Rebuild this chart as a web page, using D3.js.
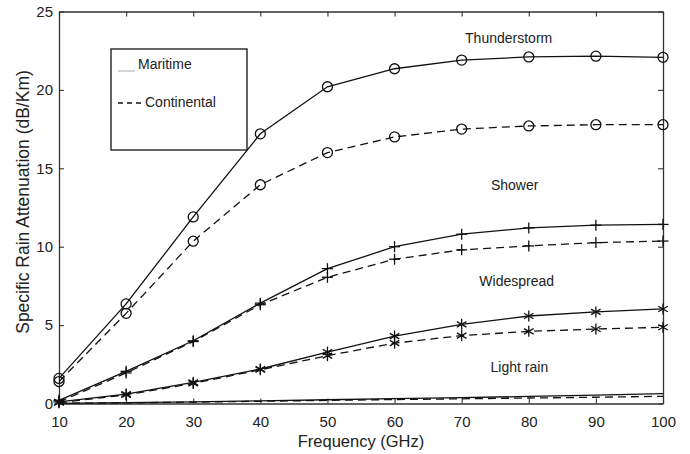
<!DOCTYPE html>
<html>
<head>
<meta charset="utf-8">
<script src="https://cdn.jsdelivr.net/npm/d3@7"></script>
<style>
  body { margin: 0; background: #fff; }
  text { font-family: "Liberation Sans", Arial, sans-serif; fill: #222; }
</style>
</head>
<body>
<div id="chart"></div>
<script>
const freq = [10, 20, 30, 40, 50, 60, 70, 80, 90, 100];

const thunderMaritime    = [1.6, 6.35, 11.9, 17.2, 20.2, 21.35, 21.9, 22.1, 22.15, 22.08];
const thunderContinental = [1.4, 5.75, 10.35, 13.95, 16.0, 17.0, 17.5, 17.7, 17.78, 17.78];
const showerMaritime     = [0.2, 2.05, 4.0, 6.4, 8.6, 10.0, 10.8, 11.2, 11.37, 11.42];
const showerContinental  = [0.1, 1.95, 3.95, 6.3, 8.05, 9.2, 9.8, 10.05, 10.26, 10.36];
const wideMaritime       = [0.1, 0.6, 1.35, 2.2, 3.28, 4.3, 5.05, 5.58, 5.84, 6.03];
const wideContinental    = [0.05, 0.55, 1.28, 2.15, 3.05, 3.85, 4.33, 4.6, 4.75, 4.86];
const lightMaritime      = [0.01, 0.05, 0.1, 0.17, 0.24, 0.31, 0.38, 0.45, 0.53, 0.63];
const lightContinental   = [0.01, 0.04, 0.09, 0.14, 0.2, 0.25, 0.3, 0.35, 0.4, 0.46];

const xTicks = [10, 20, 30, 40, 50, 60, 70, 80, 90, 100];
const yTicks = [0, 5, 10, 15, 20, 25];

const series = [
  {values: thunderMaritime, dashed: false, marker: "circle"},
  {values: thunderContinental, dashed: true, marker: "circle"},
  {values: showerMaritime, dashed: false, marker: "plus"},
  {values: showerContinental, dashed: true, marker: "plus"},
  {values: wideMaritime, dashed: false, marker: "star"},
  {values: wideContinental, dashed: true, marker: "star"},
  {values: lightMaritime, dashed: false, marker: null},
  {values: lightContinental, dashed: true, marker: null}
];

const groupLabels = [
  {text: "Thunderstorm", f: 77, v: 23.0},
  {text: "Shower", f: 77.9, v: 13.6},
  {text: "Widespread", f: 78.2, v: 7.5},
  {text: "Light rain", f: 78.6, v: 2.0}
];

const width = 690, height = 454;
const margin = {top: 11.5, right: 27, bottom: 50.5, left: 59};
const w = width - margin.left - margin.right;
const h = height - margin.top - margin.bottom;

const svg = d3.select("#chart").append("svg")
  .attr("width", width).attr("height", height);
const g = svg.append("g").attr("transform", `translate(${margin.left},${margin.top})`);

const x = d3.scaleLinear().domain([10, 100]).range([0, w]);
const y = d3.scaleLinear().domain([0, 25]).range([h, 0]);

// box axes with inward ticks like matlab
const xAxis = d3.axisBottom(x).tickValues(xTicks).tickSize(-5).tickSizeOuter(0).tickPadding(13);
const yAxis = d3.axisLeft(y).tickValues(yTicks).tickSize(-5).tickSizeOuter(0).tickPadding(6);

g.append("g").attr("transform", `translate(0,${h})`).call(xAxis);
g.append("g").call(yAxis);
g.append("g").call(d3.axisTop(x).tickValues(xTicks).tickSize(-5).tickSizeOuter(0).tickFormat(""));
g.append("g").attr("transform", `translate(${w},0)`)
  .call(d3.axisRight(y).tickValues(yTicks).tickSize(-5).tickSizeOuter(0).tickFormat(""));

g.selectAll(".domain").attr("stroke", "#333").attr("stroke-width", 1.3);
g.selectAll(".tick line").attr("stroke", "#333").attr("stroke-width", 1.1);
g.selectAll(".tick text").style("font-size", "15px").attr("fill", "#333")
  .style("font-family", "'Liberation Sans', Arial, sans-serif");

const line = d3.line().x((d, i) => x(freq[i])).y(d => y(d));

series.forEach(s => {
  g.append("path")
    .datum(s.values)
    .attr("d", line)
    .attr("fill", "none")
    .attr("stroke", "#111")
    .attr("stroke-width", 1.3)
    .attr("stroke-dasharray", s.dashed ? "8,5" : null);

  if (!s.marker) return;
  const m = g.append("g").selectAll("g").data(s.values).enter().append("g")
    .attr("transform", (d, i) => `translate(${x(freq[i])},${y(d)})`);
  if (s.marker === "circle") {
    m.append("circle").attr("r", 5).attr("fill", "none").attr("stroke", "#111").attr("stroke-width", 1.3);
  } else {
    const r = 5.5;
    const angles = s.marker === "plus" ? [0, 90] : [0, 60, 120];
    angles.forEach(a => {
      const rad = a * Math.PI / 180;
      const a0 = s.marker === "plus" ? rad : rad + Math.PI / 2;
      m.append("line")
        .attr("x1", -r * Math.cos(a0)).attr("y1", -r * Math.sin(a0))
        .attr("x2", r * Math.cos(a0)).attr("y2", r * Math.sin(a0))
        .attr("stroke", "#111").attr("stroke-width", 1.3);
    });
  }
});

g.selectAll(".glabel").data(groupLabels).enter().append("text")
  .attr("x", d => x(d.f)).attr("y", d => y(d.v))
  .attr("text-anchor", "middle")
  .style("font-size", "14px")
  .text(d => d.text);

// legend
const lg = svg.append("g");
lg.append("rect").attr("x", 111).attr("y", 49).attr("width", 136).attr("height", 101)
  .attr("fill", "#fff").attr("stroke", "#111").attr("stroke-width", 1.3);
lg.append("line").attr("x1", 118).attr("x2", 135).attr("y1", 71).attr("y2", 71)
  .attr("stroke", "#aaa").attr("stroke-width", 1);
lg.append("text").attr("x", 138).attr("y", 69).style("font-size", "14px").text("Maritime");
lg.append("line").attr("x1", 118).attr("x2", 142).attr("y1", 103).attr("y2", 103)
  .attr("stroke", "#111").attr("stroke-width", 1.3).attr("stroke-dasharray", "5,4");
lg.append("text").attr("x", 145).attr("y", 107).style("font-size", "14px").text("Continental");

// axis titles
svg.append("text").attr("x", 361).attr("y", 447)
  .attr("text-anchor", "middle").style("font-size", "16.5px").attr("fill", "#333").text("Frequency (GHz)");
svg.append("text").attr("transform", `translate(29,202) rotate(-90)`)
  .attr("text-anchor", "middle").style("font-size", "17.5px").attr("fill", "#333")
  .text("Specific Rain Attenuation (dB/Km)");
</script>
</body>
</html>
